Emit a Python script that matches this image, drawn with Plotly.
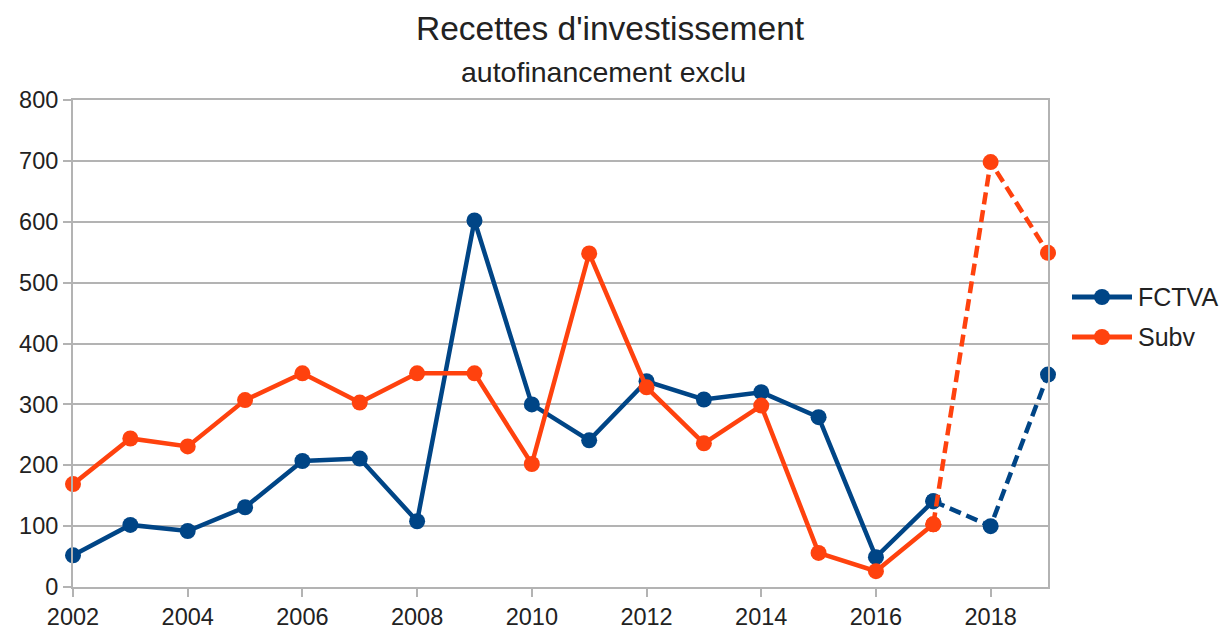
import plotly.graph_objects as go

years = list(range(2002, 2020))
fctva = [52, 102, 92, 131, 207, 211, 108, 602, 300, 241, 338, 308, 320, 279, 49, 141, 100, 349]
subv = [169, 244, 231, 307, 351, 303, 351, 351, 202, 548, 328, 236, 298, 56, 26, 103, 698, 549]
series = [("FCTVA", fctva, "#004586"), ("Subv", subv, "#ff420e")]

GRID = "#b3b3b3"
FONT = "Liberation Sans, Arial, sans-serif"

# the page adds an 8px body margin; the figure starts at (8, 8) in the window
W, H = 1212, 622
L, R, T, B = 65, 172, 92, 43
PW, PH = W - L - R, H - T - B

n_solid = years.index(2017) + 1  # solid up to 2017, dashed afterwards

fig = go.Figure()
for name, vals, col in series:
    fig.add_trace(go.Scatter(
        x=years[:n_solid], y=vals[:n_solid], name=name, mode="lines+markers",
        line=dict(color=col, width=4.5), marker=dict(color=col, size=16),
        cliponaxis=False,
    ))
    fig.add_trace(go.Scatter(
        x=years[n_solid - 1:], y=vals[n_solid - 1:], mode="lines+markers",
        line=dict(color=col, width=4.5, dash="12px,6px"),
        marker=dict(color=col, size=16), cliponaxis=False,
    ))


def px_x(x):
    return (x - 8 - L) / PW


def px_y(y):
    return (H - B - (y - 8)) / PH


fig.update_layout(
    width=W, height=H,
    margin=dict(l=L, r=R, t=T, b=B),
    paper_bgcolor="white", plot_bgcolor="white",
    font=dict(family=FONT, size=23.5, color="#222"),
    showlegend=False,
)
fig.add_annotation(text="Recettes d'investissement", xref="paper", yref="paper",
                   x=px_x(610), y=px_y(28), xanchor="center", yanchor="middle",
                   showarrow=False, font=dict(size=33.5))
fig.add_annotation(text="autofinancement exclu", xref="paper", yref="paper",
                   x=px_x(603), y=px_y(72), xanchor="center", yanchor="middle",
                   showarrow=False, font=dict(size=28.5))

# legend drawn by hand: long line with a marker in the middle
for i, (name, vals, col) in enumerate(series):
    ly = 297 + i * 40
    fig.add_shape(type="line", xref="paper", yref="paper",
                  x0=px_x(1072), x1=px_x(1132), y0=px_y(ly), y1=px_y(ly),
                  line=dict(color=col, width=5))
    fig.add_shape(type="circle", xref="paper", yref="paper",
                  x0=px_x(1094), x1=px_x(1110), y0=px_y(ly + 8), y1=px_y(ly - 8),
                  fillcolor=col, line=dict(color=col, width=0))
    fig.add_annotation(text=name, xref="paper", yref="paper",
                       x=px_x(1136), y=px_y(ly), xanchor="left", yanchor="middle",
                       showarrow=False, font=dict(size=25))

fig.update_xaxes(
    range=[2002, 2019], tickvals=list(range(2002, 2020, 2)), automargin=False,
    showgrid=False, showline=True, linecolor=GRID, linewidth=2, mirror=True,
    ticks="outside", ticklen=8, tickcolor=GRID, tickwidth=2, zeroline=False,
)
fig.update_yaxes(
    range=[0, 800], dtick=100, automargin=False,
    showgrid=True, gridcolor=GRID, gridwidth=2,
    showline=True, linecolor=GRID, linewidth=2, mirror=True,
    ticks="outside", ticklen=8, tickcolor=GRID, tickwidth=2, zeroline=False,
)

fig.write_html("out.html")
